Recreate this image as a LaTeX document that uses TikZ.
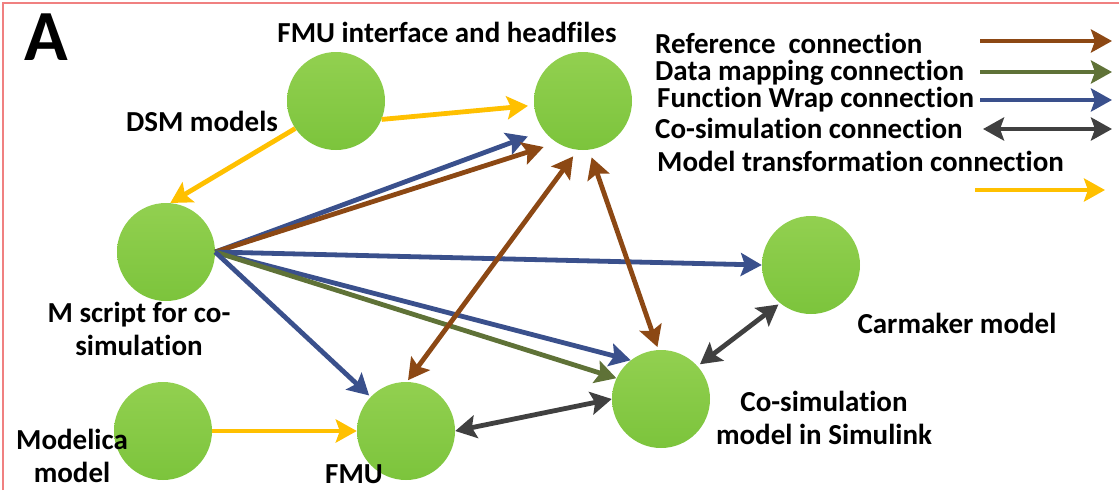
\documentclass[tikz,border=0pt]{standalone}
\usepackage{fontspec}
\setmainfont{Carlito}[RawFeature={-liga,-clig,-calt,-dlig}]
\usetikzlibrary{arrows.meta}
\definecolor{brownc}{RGB}{140,72,20}
\definecolor{olivec}{RGB}{95,114,55}
\definecolor{bluec}{RGB}{58,80,140}
\definecolor{grayc}{RGB}{64,64,64}
\definecolor{yellowc}{RGB}{255,192,0}
\definecolor{gtop}{RGB}{146,208,80}
\definecolor{gbot}{RGB}{124,196,60}
\definecolor{borderc}{RGB}{240,128,128}
\tikzset{
  ball/.style={circle, minimum size=98pt, inner sep=0pt, top color=gtop, bottom color=gbot, draw=none},
  lbl/.style={font=\fontsize{29}{33}\selectfont\bfseries, align=center, inner sep=0pt},
  leg/.style={font=\fontsize{29}{33}\selectfont\bfseries, anchor=west, inner sep=0pt},
  conn/.style={line width=4.8pt, -{Stealth[length=21pt,width=23pt,inset=4pt]}},
  bconn/.style={line width=4.8pt, {Stealth[length=21pt,width=23pt,inset=4pt]}-{Stealth[length=21pt,width=23pt,inset=4pt]}},
}
\begin{document}
\begin{tikzpicture}[x=1pt,y=-1pt]
\useasboundingbox (0,0) rectangle (1119,490);
\draw[borderc, line width=1.2pt] (3,490) -- (3,3) -- (1119,3);
% nodes
\node[ball] (dsm) at (336,101) {};
\node[ball] (fmui) at (583,101) {};
\node[ball] (ms) at (166,252) {};
\node[ball] (mod) at (163,431) {};
\node[ball] (fmu) at (406,431) {};
\node[ball] (cos) at (661,399) {};
\node[ball] (car) at (811,265) {};
% labels
\node[font=\fontsize{72}{72}\selectfont\bfseries, inner sep=0pt] (A) at (46,37) {A};
\node[lbl] (lfmui) at (447,32) {FMU interface and headfiles};
\node[lbl] (ldsm) at (202,121) {DSM models};
\node[lbl] (lms) at (139,329) {M script for co-\\simulation};
\node[lbl] (lmod) at (72,456) {Modelica\\model};
\node[font=\fontsize{29}{33}\selectfont\bfseries, inner sep=0pt, anchor=base] (lfmu) at (354,483) {FMU};
\node[lbl] (lcar) at (957,323) {Carmaker model};
\node[lbl] (lcos) at (824,418) {Co-simulation\\model in Simulink};
% connectors
\draw[conn, yellowc, shorten >=6pt] (dsm.-22) -- (fmui.185);
\draw[conn, yellowc] (dsm.214) -- (ms.85);
\draw[conn, bluec, shorten >=17pt] (ms.east) -- (fmui.217);
\draw[conn, brownc, shorten >=14pt] (ms.east) -- (fmui.238.6);
\draw[conn, bluec] (ms.east) -- (car.west);
\draw[conn, bluec] (ms.east) -- (cos.128.5);
\draw[conn, olivec] (ms.east) -- (cos.155.5);
\draw[conn, bluec, shorten >=2pt] (ms.east) -- (fmu.136);
\draw[bconn, brownc, shorten <=2pt, shorten >=8pt] (fmu.89) -- (fmui.264);
\draw[bconn, brownc, shorten <=3pt, shorten >=8pt] (cos.93) -- (fmui.277);
\draw[conn, yellowc] (mod.east) -- (fmu.west);
\draw[bconn, grayc] (fmu.east) -- (cos.west);
\draw[bconn, grayc, shorten <=3pt, shorten >=2pt] (cos.42) -- (car.231);
% legend
\node[leg] (l1) at (655,43) {Reference\ \ connection};
\node[leg] (l2) at (655,73) {Data mapping connection};
\node[leg] (l3) at (657,100) {Function Wrap connection};
\node[leg] (l4) at (655,128) {Co-simulation connection};
\node[leg] (l5) at (657,161) {Model transformation connection};
\coordinate (a1s) at (980,41); \coordinate (a1e) at (1112,41);
\coordinate (a2s) at (980,72); \coordinate (a2e) at (1112,72);
\coordinate (a3s) at (980,100); \coordinate (a3e) at (1112,100);
\coordinate (a4s) at (983,129); \coordinate (a4e) at (1112,129);
\coordinate (a5s) at (975,190); \coordinate (a5e) at (1105,190);
\draw[conn, brownc] (a1s) -- (a1e);
\draw[conn, olivec] (a2s) -- (a2e);
\draw[conn, bluec] (a3s) -- (a3e);
\draw[bconn, grayc] (a4s) -- (a4e);
\draw[conn, yellowc] (a5s) -- (a5e);
\end{tikzpicture}
\end{document}
